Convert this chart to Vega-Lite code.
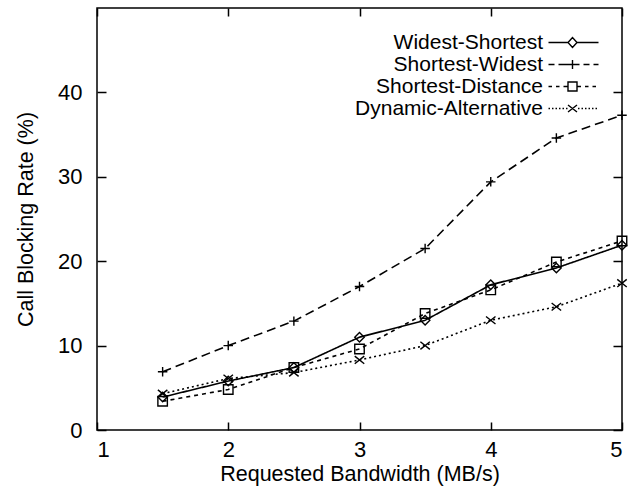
{
  "$schema": "https://vega.github.io/schema/vega-lite/v6.json",
  "width": 525,
  "height": 422,
  "autosize": "none",
  "padding": {"left": 97, "top": 8, "right": 11, "bottom": 58},
  "background": "white",
  "config": {
    "font": "Liberation Sans",
    "view": {"stroke": "black", "strokeWidth": 1.5},
    "axis": {"domain": false, "ticks": false, "labelColor": "black", "titleColor": "black", "labelFontSize": 22, "titleFontSize": 21.5, "titleFontWeight": "normal", "gridColor": "black", "gridOpacity": 1, "gridWidth": 1.5}
  },
  "data": {
    "values": [
      {"bw": 1.5, "rate": 3.9, "series": "Widest-Shortest"},
      {"bw": 2.0, "rate": 5.8, "series": "Widest-Shortest"},
      {"bw": 2.5, "rate": 7.4, "series": "Widest-Shortest"},
      {"bw": 3.0, "rate": 11.0, "series": "Widest-Shortest"},
      {"bw": 3.5, "rate": 13.0, "series": "Widest-Shortest"},
      {"bw": 4.0, "rate": 17.2, "series": "Widest-Shortest"},
      {"bw": 4.5, "rate": 19.2, "series": "Widest-Shortest"},
      {"bw": 5.0, "rate": 21.9, "series": "Widest-Shortest"},
      {"bw": 1.5, "rate": 6.9, "series": "Shortest-Widest"},
      {"bw": 2.0, "rate": 10.0, "series": "Shortest-Widest"},
      {"bw": 2.5, "rate": 12.9, "series": "Shortest-Widest"},
      {"bw": 3.0, "rate": 17.0, "series": "Shortest-Widest"},
      {"bw": 3.5, "rate": 21.5, "series": "Shortest-Widest"},
      {"bw": 4.0, "rate": 29.4, "series": "Shortest-Widest"},
      {"bw": 4.5, "rate": 34.6, "series": "Shortest-Widest"},
      {"bw": 5.0, "rate": 37.3, "series": "Shortest-Widest"},
      {"bw": 1.5, "rate": 3.4, "series": "Shortest-Distance"},
      {"bw": 2.0, "rate": 4.8, "series": "Shortest-Distance"},
      {"bw": 2.5, "rate": 7.4, "series": "Shortest-Distance"},
      {"bw": 3.0, "rate": 9.6, "series": "Shortest-Distance"},
      {"bw": 3.5, "rate": 13.8, "series": "Shortest-Distance"},
      {"bw": 4.0, "rate": 16.6, "series": "Shortest-Distance"},
      {"bw": 4.5, "rate": 19.9, "series": "Shortest-Distance"},
      {"bw": 5.0, "rate": 22.4, "series": "Shortest-Distance"},
      {"bw": 1.5, "rate": 4.3, "series": "Dynamic-Alternative"},
      {"bw": 2.0, "rate": 6.1, "series": "Dynamic-Alternative"},
      {"bw": 2.5, "rate": 6.8, "series": "Dynamic-Alternative"},
      {"bw": 3.0, "rate": 8.3, "series": "Dynamic-Alternative"},
      {"bw": 3.5, "rate": 10.0, "series": "Dynamic-Alternative"},
      {"bw": 4.0, "rate": 13.0, "series": "Dynamic-Alternative"},
      {"bw": 4.5, "rate": 14.6, "series": "Dynamic-Alternative"},
      {"bw": 5.0, "rate": 17.4, "series": "Dynamic-Alternative"}
    ]
  },
  "resolve": {
    "scale": {"shape": "independent"},
    "legend": {"shape": "independent"}
  },
  "layer": [
    {
      "mark": {"type": "line", "color": "black", "strokeWidth": 1.6},
      "encoding": {
        "x": {"field": "bw", "type": "quantitative", "scale": {"domain": [1, 5], "nice": false, "zero": false},
              "axis": {"orient": "bottom", "values": [1, 2, 3, 4, 5], "format": "d", "grid": true, "gridDash": [8, 406, 8, 1000], "labelPadding": 9, "title": "Requested Bandwidth (MB/s)", "titlePadding": 3}},
        "y": {"field": "rate", "type": "quantitative", "scale": {"domain": [0, 50], "nice": false},
              "axis": {"orient": "left", "values": [0, 10, 20, 30, 40], "format": "d", "grid": true, "gridDash": [9, 507, 9, 1000], "labelPadding": 15, "title": "Call Blocking Rate (%)", "titlePadding": 20}},
        "strokeDash": {"field": "series", "type": "nominal",
              "scale": {"domain": ["Widest-Shortest", "Shortest-Widest", "Shortest-Distance", "Dynamic-Alternative"], "range": [[1, 0], [9, 5], [4, 4], [2, 3]]},
              "legend": null},
        "detail": {"field": "series"}
      }
    },
    {
      "mark": {"type": "point", "filled": false, "color": "black", "strokeWidth": 1.4, "size": 90, "opacity": 1},
      "encoding": {
        "x": {"field": "bw", "type": "quantitative"},
        "y": {"field": "rate", "type": "quantitative"},
        "shape": {"field": "series", "type": "nominal",
              "scale": {"domain": ["Widest-Shortest", "Shortest-Widest", "Shortest-Distance", "Dynamic-Alternative"], "range": ["diamond", "M-1,0H1M0,-1V1", "square", "M-1,-0.8L1,0.8M-1,0.8L1,-0.8"]},
              "legend": null}
      }
    },
    {
      "mark": {"type": "point", "filled": false, "color": "black", "size": 0},
      "encoding": {
        "x": {"field": "bw", "type": "quantitative"},
        "y": {"field": "rate", "type": "quantitative"},
        "shape": {"field": "series", "type": "nominal",
              "scale": {"domain": ["Widest-Shortest", "Shortest-Widest", "Shortest-Distance", "Dynamic-Alternative"],
                        "range": [
                          "M-4.8,0H-0.9M0.9,0H5.2M-0.9,0L0,-1L0.9,0L0,1Z",
                          "M-4.8,0H-3.6M-2.8,0H1.4M2.2,0H3.4M4.2,0H5.2M0,-0.9V0.9",
                          "M-4.8,0H-4.1M-3.3,0H-2.6M-1.8,0H-0.9M0.9,0H1.7M2.5,0H3.2M4.0,0H4.7M-0.9,-0.9H0.9V0.9H-0.9Z",
                          "M-4.8,0h0.3M-4.1,0h0.3M-3.4,0h0.3M-2.7,0h0.3M-2.0,0h0.3M-1.3,0h0.3M1.1,0h0.3M1.8,0h0.3M2.5,0h0.3M3.2,0h0.3M3.9,0h0.3M4.6,0h0.3M-0.9,-0.7L0.9,0.7M-0.9,0.7L0.9,-0.7"
                        ]},
              "legend": {"title": null, "orient": "none", "legendX": 465, "legendY": 24, "padding": 0,
                         "labelFontSize": 21, "labelColor": "black", "labelAlign": "right", "labelOffset": -40, "labelLimit": 400,
                         "symbolSize": 100, "symbolStrokeWidth": 1.4, "symbolStrokeColor": "black", "symbolFillColor": "transparent", "symbolOpacity": 1, "rowPadding": 0}}
      }
    }
  ]
}
